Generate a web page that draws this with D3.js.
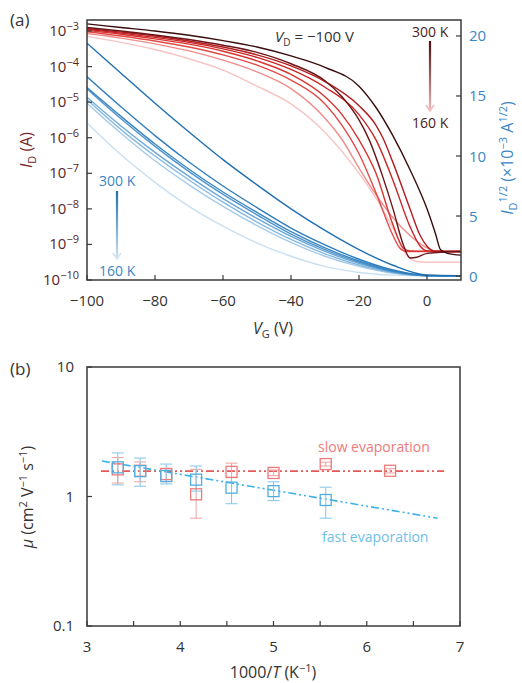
<!DOCTYPE html>
<html><head><meta charset="utf-8">
<script src="https://cdn.jsdelivr.net/npm/d3@7"></script>
<style>
body{margin:0;background:#fff}
svg{display:block}
text{font-family:"Open Sans",sans-serif}
</style>
</head><body>
<svg id="c" width="522" height="683"></svg>
<script>
// ---------- DATA: panel (a) ----------
// log curves (left axis, log10 of I_D in A), 300 K -> 160 K
const redVG = [
  [-100,-90,-80,-70,-60,-50,-40,-30,-20,-15,-10,-5,0,2.5,4,6,10],
  [-100,-90,-80,-70,-60,-50,-40,-30,-25,-20,-17,-13,-10,-7,-5,-3,0,10],
  [-100,-90,-80,-70,-60,-50,-40,-30,-20,-15,-13,-10,-5,-2,0,2,10],
  [-100,-90,-80,-70,-60,-50,-40,-30,-20,-15,-10,-5,-2,0,10],
  [-100,-90,-80,-70,-60,-50,-40,-30,-25,-20,-15,-10,-7,-5,10],
  [-100,-90,-80,-70,-60,-50,-40,-30,-25,-20,-15,-10,-8,-6,10],
  [-100,-90,-80,-70,-60,-50,-40,-30,-25,-20,-15,-10,-5,0,3,10],
  [-100,-90,-80,-70,-60,-50,-40,-30,-20,-15,-10,-6,-3,0,10]
];
const redLogID = [
  [-2.80,-2.90,-3.00,-3.12,-3.27,-3.45,-3.70,-4.02,-4.55,-5.15,-5.95,-6.90,-8.00,-8.70,-9.15,-9.25,-9.30],
  [-2.90,-3.00,-3.11,-3.24,-3.40,-3.60,-3.92,-4.40,-4.85,-5.50,-6.06,-7.10,-8.00,-9.00,-9.38,-9.36,-9.25,-9.20],
  [-2.93,-3.03,-3.14,-3.28,-3.45,-3.67,-3.98,-4.42,-5.10,-5.65,-6.00,-6.70,-8.00,-8.75,-9.05,-9.18,-9.20],
  [-2.95,-3.06,-3.18,-3.32,-3.50,-3.74,-4.08,-4.58,-5.35,-6.06,-7.20,-8.50,-9.05,-9.18,-9.20],
  [-2.98,-3.09,-3.22,-3.37,-3.57,-3.84,-4.22,-4.85,-5.35,-6.06,-7.00,-8.45,-9.10,-9.18,-9.20],
  [-3.02,-3.14,-3.28,-3.45,-3.67,-3.96,-4.38,-5.05,-5.65,-6.45,-7.55,-8.75,-9.10,-9.20,-9.20],
  [-3.07,-3.20,-3.36,-3.56,-3.82,-4.15,-4.62,-5.45,-6.05,-6.85,-7.60,-8.25,-8.75,-9.10,-9.20,-9.20],
  [-3.15,-3.32,-3.52,-3.78,-4.10,-4.55,-5.05,-5.85,-7.00,-7.70,-8.55,-9.30,-9.48,-9.50,-9.50]
];
const redColors = ["#3a0c0e","#6c1519","#b31d1f","#c92426","#d8342f","#e24a48","#ef8c8a","#f7c4c4"];

// sqrt curves (right axis, x10^-3 A^1/2)
const blueVG = [-100,-90,-80,-70,-60,-50,-40,-30,-20,-10,0,10];
const blueSqrtID = [
  [19.4,16.9,14.4,12.0,9.7,7.6,5.6,3.8,2.2,0.9,0.08,0.02],
  [16.6,14.1,11.7,9.5,7.5,5.7,4.0,2.6,1.4,0.5,0.05,0.02],
  [15.7,13.3,11.0,8.9,7.0,5.3,3.7,2.35,1.25,0.42,0.04,0.02],
  [15.6,13.1,10.8,8.7,6.8,5.1,3.5,2.2,1.15,0.38,0.04,0.02],
  [14.9,12.5,10.3,8.3,6.45,4.8,3.3,2.05,1.05,0.33,0.03,0.02],
  [14.7,12.2,10.0,8.0,6.15,4.5,3.05,1.85,0.92,0.28,0.03,0.02],
  [14.4,11.9,9.6,7.6,5.8,4.2,2.8,1.65,0.8,0.23,0.02,0.02],
  [12.75,10.1,7.8,5.8,4.15,2.75,1.65,0.8,0.3,0.08,0.02,0.02]
];
const blueColors = ["#1f6fb2","#2f7dbd","#3c88c4","#4f95cc","#6aa7d6","#86b9df","#a6cbe8","#c9e0f2"];

const vgTicks = [-100,-80,-60,-40,-20,0];
const logTicks = [-3,-4,-5,-6,-7,-8,-9,-10];
const sqrtTicks = [0,5,10,15,20];
const tempLabels = ["300 K","160 K"];

// ---------- DATA: panel (b) ----------
const invT = [3.33,3.57,3.85,4.17,4.55,5.0,5.56,6.25];
const slowMu = [1.62,1.58,1.49,1.04,1.55,1.52,1.78,1.58];
const slowLo = [1.27,1.30,1.30,0.68,1.40,1.45,1.72,1.52];
const slowHi = [2.00,1.85,1.65,1.62,1.81,1.60,1.84,1.64];
const fastInvT = [3.33,3.57,3.85,4.17,4.55,5.0,5.56];
const fastMu = [1.68,1.57,1.44,1.35,1.17,1.10,0.94];
const fastLo = [1.23,1.20,1.25,1.10,0.88,0.93,0.68];
const fastHi = [2.17,1.98,1.78,1.72,1.40,1.30,1.18];
const slowFitX = [3.15,6.83], slowFitY = [1.57,1.57];
const fastFitX = [3.16,6.76], fastFitY = [1.88,0.68];
const invTTicks = [3,4,5,6,7];
const invTMinor = [3.5,4.5,5.5,6.5];
const muTicks = [0.1,1,10];

// ---------- DRAW ----------
const svg = d3.select("#c");
const defs = svg.append("defs");
const axisCol = "#3a3a3a";

const xA = d3.scaleLinear().domain([-100,10]).range([87,461]);
const yL = d3.scaleLog().domain([1e-10, Math.pow(10,-2.69)]).range([280,20]);
const yR = d3.scaleLinear().domain([-0.33,21.33]).range([280,20]);

const gA = svg.append("g");
const clipA = defs.append("clipPath").attr("id","clipA");
clipA.append("rect").attr("x",87).attr("y",20).attr("width",374).attr("height",260);
const curves = gA.append("g").attr("clip-path","url(#clipA)");

for(let i=blueSqrtID.length-1;i>=0;i--){
  const line = d3.line().x((d,j)=>xA(blueVG[j])).y(d=>yR(d)).curve(d3.curveMonotoneX);
  curves.append("path").attr("d",line(blueSqrtID[i])).attr("fill","none")
    .attr("stroke",blueColors[i]).attr("stroke-width",1.4);
}
for(let i=redLogID.length-1;i>=0;i--){
  const vg = redVG[i];
  const line = d3.line().x((d,j)=>xA(vg[j])).y(d=>yL(Math.pow(10,d))).curve(d3.curveMonotoneX);
  curves.append("path").attr("d",line(redLogID[i])).attr("fill","none")
    .attr("stroke",redColors[i]).attr("stroke-width",1.4);
}

gA.append("rect").attr("x",87).attr("y",20).attr("width",374).attr("height",260)
  .attr("fill","none").attr("stroke",axisCol).attr("stroke-width",1.5);

vgTicks.forEach(v=>{
  gA.append("line").attr("x1",xA(v)).attr("x2",xA(v)).attr("y1",280).attr("y2",275)
    .attr("stroke",axisCol).attr("stroke-width",1.2);
  gA.append("text").attr("x",xA(v)).attr("y",306).attr("text-anchor","middle")
    .attr("font-size",15).attr("fill","#333").text(v<0?"\u2212"+Math.abs(v):String(v));
});
logTicks.forEach(e=>{
  const y = yL(Math.pow(10,e));
  gA.append("line").attr("x1",87).attr("x2",92).attr("y1",y).attr("y2",y)
    .attr("stroke",axisCol).attr("stroke-width",1.2);
  const t = gA.append("text").attr("x",79).attr("y",y+5).attr("text-anchor","end")
    .attr("font-size",15).attr("fill","#5a2424");
  t.append("tspan").text("10");
  t.append("tspan").attr("dy",-6).attr("font-size",11).text("\u2212"+Math.abs(e));
});
sqrtTicks.forEach(v=>{
  const y = yR(v);
  gA.append("line").attr("x1",461).attr("x2",456).attr("y1",y).attr("y2",y)
    .attr("stroke",axisCol).attr("stroke-width",1.2);
  gA.append("text").attr("x",469).attr("y",y+5.5).attr("text-anchor","start")
    .attr("font-size",15).attr("fill","#3b86c5").text(v);
});
const xl = gA.append("text").attr("x",273).attr("y",334).attr("text-anchor","middle")
  .attr("font-size",16).attr("fill","#333");
xl.append("tspan").attr("font-style","italic").text("V");
xl.append("tspan").attr("dy",4).attr("font-size",11).text("G");
xl.append("tspan").attr("dy",-4).text(" (V)");

const yl = gA.append("text").attr("transform","translate(32,150) rotate(-90)")
  .attr("text-anchor","middle").attr("font-size",16).attr("fill","#7a2626");
yl.append("tspan").attr("font-style","italic").text("I");
yl.append("tspan").attr("dy",4).attr("font-size",11).text("D");
yl.append("tspan").attr("dy",-4).text(" (A)");

const yr = gA.append("text").attr("transform","translate(513,158) rotate(-90)")
  .attr("text-anchor","middle").attr("font-size",16).attr("fill","#3b86c5");
yr.append("tspan").attr("font-style","italic").text("I");
yr.append("tspan").attr("dy",4).attr("font-size",11).text("D");
yr.append("tspan").attr("dy",-10).attr("font-size",11).text("1/2");
yr.append("tspan").attr("dy",6).text(" (\u00d710");
yr.append("tspan").attr("dy",-6).attr("font-size",11).text("\u22123");
yr.append("tspan").attr("dy",6).text(" A");
yr.append("tspan").attr("dy",-6).attr("font-size",11).text("1/2");
yr.append("tspan").attr("dy",6).text(")");

svg.append("text").attr("x",10).attr("y",26).attr("font-size",17).attr("fill","#333").text("(a)");

const vd = gA.append("text").attr("x",275).attr("y",42).attr("font-size",15).attr("fill","#333");
vd.append("tspan").attr("font-style","italic").text("V");
vd.append("tspan").attr("dy",4).attr("font-size",10).text("D");
vd.append("tspan").attr("dy",-4).text(" = \u2212100 V");

function tempArrow(x, y0, y1, c0, c1, id){
  const g = defs.append("linearGradient").attr("id",id).attr("gradientUnits","userSpaceOnUse")
    .attr("x1",x).attr("x2",x).attr("y1",y0).attr("y2",y1);
  g.append("stop").attr("offset",0).attr("stop-color",c0);
  g.append("stop").attr("offset",1).attr("stop-color",c1);
  gA.append("line").attr("x1",x).attr("x2",x).attr("y1",y0).attr("y2",y1-2)
    .attr("stroke",`url(#${id})`).attr("stroke-width",2.2);
  gA.append("path").attr("d",`M${x-4},${y1-6} L${x},${y1} L${x+4},${y1-6}`)
    .attr("fill","none").attr("stroke",c1).attr("stroke-width",1.5);
}
gA.append("text").attr("x",412).attr("y",37).attr("font-size",14).attr("fill","#4a1c1c").text(tempLabels[0]);
gA.append("text").attr("x",412).attr("y",128).attr("font-size",14).attr("fill","#4a1c1c").text(tempLabels[1]);
tempArrow(430, 41, 111, "#4a0c0e", "#f5b8b8", "gRed");

gA.append("text").attr("x",99).attr("y",186).attr("font-size",14).attr("fill","#3b86c5").text(tempLabels[0]);
gA.append("text").attr("x",99).attr("y",276).attr("font-size",14).attr("fill","#3b86c5").text(tempLabels[1]);
tempArrow(117, 191, 259, "#1f6fb2", "#cfe3f3", "gBlue");

// ---------- Panel (b) ----------
const xB = d3.scaleLinear().domain([3,7]).range([87,460]);
const yB = d3.scaleLog().domain([0.1,10]).range([626,367]);
const gB = svg.append("g");

svg.append("text").attr("x",10).attr("y",375).attr("font-size",17).attr("fill","#333").text("(b)");

const redM = "#ef7a7a", redE = "#f3a8a8", redF = "#e55a58";
const bluM = "#52aee0", bluE = "#8dcaea", bluF = "#3db2ea";

const fitLine = d3.line().x(d=>xB(d[0])).y(d=>yB(d[1]));
gB.append("path").attr("d",fitLine(slowFitX.map((x,i)=>[x,slowFitY[i]])))
  .attr("stroke",redF).attr("stroke-width",1.6).attr("fill","none").attr("stroke-dasharray","8,3,2,3,2,3");
gB.append("path").attr("d",fitLine(fastFitX.map((x,i)=>[x,fastFitY[i]])))
  .attr("stroke",bluF).attr("stroke-width",1.6).attr("fill","none").attr("stroke-dasharray","8,3,2,3,2,3");

function errBars(xs, lo, hi, col){
  xs.forEach((x,i)=>{
    const px = xB(x);
    gB.append("line").attr("x1",px).attr("x2",px).attr("y1",yB(lo[i])).attr("y2",yB(hi[i]))
      .attr("stroke",col).attr("stroke-width",1.1);
    [lo[i],hi[i]].forEach(v=>{
      gB.append("line").attr("x1",px-6).attr("x2",px+6).attr("y1",yB(v)).attr("y2",yB(v))
        .attr("stroke",col).attr("stroke-width",1.1);
    });
  });
}
function squares(xs, ys, col){
  xs.forEach((x,i)=>{
    gB.append("rect").attr("x",xB(x)-5.5).attr("y",yB(ys[i])-5.5).attr("width",11).attr("height",11)
      .attr("fill","none").attr("stroke",col).attr("stroke-width",1.3);
  });
}
errBars(invT, slowLo, slowHi, redE);
errBars(fastInvT, fastLo, fastHi, bluE);
squares(invT, slowMu, redM);
squares(fastInvT, fastMu, bluM);

gB.append("rect").attr("x",87).attr("y",367).attr("width",373).attr("height",259)
  .attr("fill","none").attr("stroke",axisCol).attr("stroke-width",1.5);
invTTicks.concat(invTMinor).forEach(v=>{
  gB.append("line").attr("x1",xB(v)).attr("x2",xB(v)).attr("y1",626).attr("y2",621)
    .attr("stroke",axisCol).attr("stroke-width",1.2);
});
invTTicks.forEach(v=>{
  gB.append("text").attr("x",xB(v)).attr("y",652).attr("text-anchor","middle")
    .attr("font-size",15).attr("fill","#333").text(v);
});
muTicks.forEach(v=>{
  gB.append("line").attr("x1",87).attr("x2",92).attr("y1",yB(v)).attr("y2",yB(v))
    .attr("stroke",axisCol).attr("stroke-width",1.2);
  gB.append("text").attr("x",74).attr("y",yB(v)+5).attr("text-anchor","end")
    .attr("font-size",15).attr("fill","#333").text(v);
});
gB.append("text").attr("x",318).attr("y",452).attr("font-size",14).attr("fill",redM).text("slow evaporation");
gB.append("text").attr("x",322).attr("y",542).attr("font-size",14).attr("fill","#6ec0ea").text("fast evaporation");

const xbl = gB.append("text").attr("x",273).attr("y",678).attr("text-anchor","middle")
  .attr("font-size",16).attr("fill","#333");
xbl.append("tspan").text("1000/");
xbl.append("tspan").attr("font-style","italic").text("T");
xbl.append("tspan").text(" (K");
xbl.append("tspan").attr("dy",-6).attr("font-size",11).text("\u22121");
xbl.append("tspan").attr("dy",6).text(")");

const ybl = gB.append("text").attr("transform","translate(33,497) rotate(-90)")
  .attr("text-anchor","middle").attr("font-size",16).attr("fill","#333");
ybl.append("tspan").attr("font-style","italic").text("\u03bc");
ybl.append("tspan").text(" (cm");
ybl.append("tspan").attr("dy",-6).attr("font-size",11).text("2");
ybl.append("tspan").attr("dy",6).text(" V");
ybl.append("tspan").attr("dy",-6).attr("font-size",11).text("\u22121");
ybl.append("tspan").attr("dy",6).text(" s");
ybl.append("tspan").attr("dy",-6).attr("font-size",11).text("\u22121");
ybl.append("tspan").attr("dy",6).text(")");
</script>
</body></html>
